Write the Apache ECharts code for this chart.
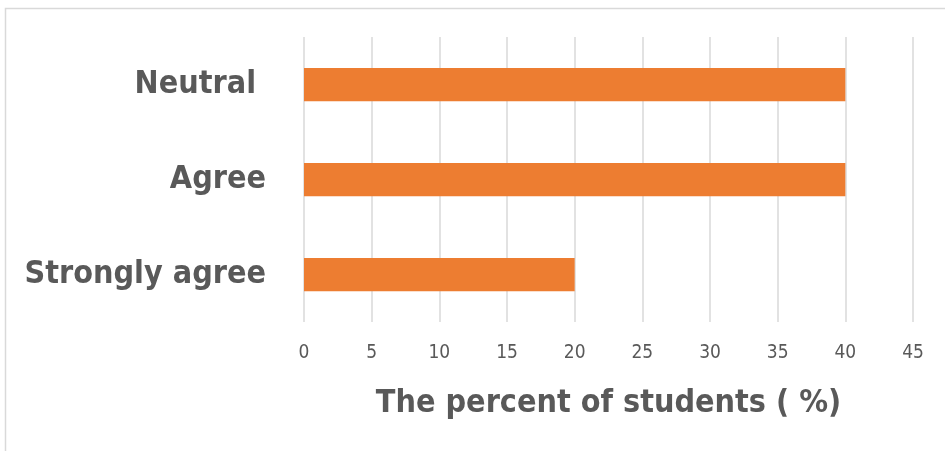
<!DOCTYPE html>
<html>
<head>
<meta charset="utf-8">
<script src="https://cdn.jsdelivr.net/npm/echarts@6/dist/echarts.min.js"></script>
<style>
html,body{margin:0;padding:0;background:#fff;}
#c{width:945px;height:451px;}
</style>
</head>
<body>
<div id="c"></div>
<script>
const categories = ['Strongly agree', 'Agree', 'Neutral '];
const values = [20, 40, 40];
const xTicksMin = 0, xTicksMax = 45, xTickStep = 5;
const xAxisTitle = 'The percent of students ( %)';

const FONT = '"DejaVu Sans Condensed", "Open Sans", sans-serif';
const chart = echarts.init(document.getElementById('c'), null, {renderer: 'canvas'});
chart.setOption({
  animation: false,
  backgroundColor: '#ffffff',
  graphic: [{
    type: 'rect', silent: true,
    shape: {x: 5.5, y: 8.5, width: 1200, height: 1200},
    style: {fill: 'none', stroke: '#d9d9d9', lineWidth: 1.5}
  }],
  grid: {left: 304, right: 32, top: 37, bottom: 129, containLabel: false},
  xAxis: {
    type: 'value', min: xTicksMin, max: xTicksMax, interval: xTickStep,
    axisLine: {show: false}, axisTick: {show: false},
    splitLine: {show: true, lineStyle: {color: '#d9d9d9', width: 1.5}},
    axisLabel: {color: '#595959', fontSize: 19, fontFamily: FONT, margin: 22},
    name: xAxisTitle, nameLocation: 'middle', nameGap: 66,
    nameTextStyle: {color: '#595959', fontSize: 32, fontWeight: 'bold', fontFamily: FONT}
  },
  yAxis: {
    type: 'category', data: categories,
    axisLine: {show: false}, axisTick: {show: false},
    axisLabel: {color: '#595959', fontSize: 32, fontWeight: 'bold', fontFamily: FONT, margin: 38}
  },
  series: [{
    type: 'bar', data: values, barWidth: '35%',
    itemStyle: {color: '#ed7d31'}
  }]
});
</script>
</body>
</html>
